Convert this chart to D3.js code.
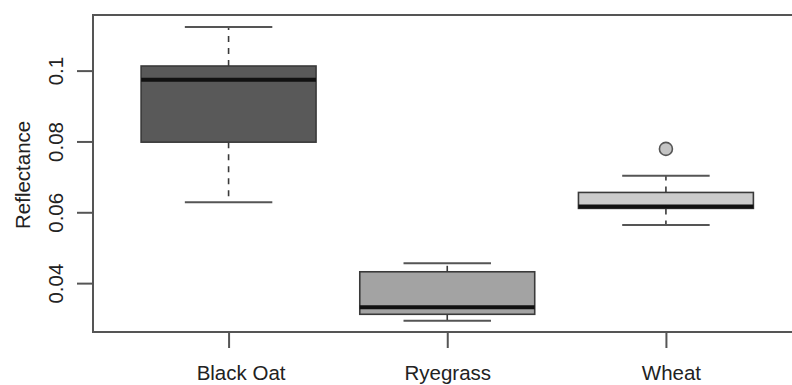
<!DOCTYPE html>
<html>
<head>
<meta charset="utf-8">
<script src="https://cdn.jsdelivr.net/npm/d3@7"></script>
<style>
  html, body { margin: 0; padding: 0; background: #fff; }
  svg { display: block; }
  text { font-family: "Liberation Sans", Arial, sans-serif; fill: #222; }
</style>
</head>
<body>
<svg id="chart" width="792" height="385"></svg>
<script>
// ---- data ----
const categories = ["Black Oat", "Ryegrass", "Wheat"];
const whiskerLow  = [0.0628, 0.0294, 0.0564];
const boxLow      = [0.0798, 0.0312, 0.0611];
const medians     = [0.0974, 0.0332, 0.0616];
const boxHigh     = [0.1013, 0.0432, 0.0656];
const whiskerHigh = [0.1123, 0.0456, 0.0703];
const outliers    = [[], [], [0.0779]];
const fills       = ["#595959", "#a3a3a3", "#cbcbcb"];
const yTicks      = [0.04, 0.06, 0.08, 0.1];
const yTitle      = "Reflectance";

// ---- layout ----
const labelShift = [12, 0, 5];   // small horizontal offsets seen in the reference labels
const svg = d3.select("#chart");
const mLeft = 93, mRight = 801.5, mTop = 15, mBottom = 332;
const x = d3.scaleLinear().domain([0.38, 3.62]).range([mLeft, mRight]);
const y = d3.scaleLinear().domain([0.0262, 0.1157]).range([mBottom, mTop]);
const unit = x(2) - x(1);
const boxHalf = unit * 0.4, capHalf = unit * 0.2;
const lineCol = "#3a3a3a";

// boxes
categories.forEach((c, i) => {
  const cx = x(i + 1);
  const g = svg.append("g");
  // whiskers (dashed)
  g.append("line").attr("x1", cx).attr("x2", cx)
    .attr("y1", y(boxHigh[i])).attr("y2", y(whiskerHigh[i]))
    .attr("stroke", lineCol).attr("stroke-width", 1.6).attr("stroke-dasharray", "6,6");
  g.append("line").attr("x1", cx).attr("x2", cx)
    .attr("y1", y(boxLow[i])).attr("y2", y(whiskerLow[i]))
    .attr("stroke", lineCol).attr("stroke-width", 1.6).attr("stroke-dasharray", "6,6");
  // caps
  [whiskerHigh[i], whiskerLow[i]].forEach(v => {
    g.append("line").attr("x1", cx - capHalf).attr("x2", cx + capHalf)
      .attr("y1", y(v)).attr("y2", y(v))
      .attr("stroke", "#555").attr("stroke-width", 2);
  });
  // box
  g.append("rect").attr("x", cx - boxHalf).attr("width", 2 * boxHalf)
    .attr("y", y(boxHigh[i])).attr("height", y(boxLow[i]) - y(boxHigh[i]))
    .attr("fill", fills[i]).attr("stroke", lineCol).attr("stroke-width", 1.6);
  // median
  g.append("line").attr("x1", cx - boxHalf).attr("x2", cx + boxHalf)
    .attr("y1", y(medians[i])).attr("y2", y(medians[i]))
    .attr("stroke", "#111").attr("stroke-width", 4);
  // outliers
  outliers[i].forEach(v => {
    g.append("circle").attr("cx", cx).attr("cy", y(v)).attr("r", 6.5)
      .attr("fill", "#c4c4c4").attr("stroke", "#555").attr("stroke-width", 1.6);
  });
});

// frame
svg.append("rect").attr("x", mLeft).attr("y", mTop)
  .attr("width", mRight - mLeft).attr("height", mBottom - mTop)
  .attr("fill", "none").attr("stroke", "#555").attr("stroke-width", 2);

// y axis
const yAxis = d3.axisLeft(y).tickValues(yTicks).tickSize(16).tickFormat(d => String(d));
const ya = svg.append("g").attr("transform", `translate(${mLeft},0)`).call(yAxis);
ya.select(".domain").remove();
ya.selectAll(".tick line").attr("stroke", "#555").attr("stroke-width", 2);
ya.selectAll(".tick text")
  .attr("x", 0).attr("dy", 0)
  .attr("transform", "translate(-30,0) rotate(-90)")
  .attr("text-anchor", "middle")
  .style("font-size", "20.5px").style("fill", "#222")
  .style("font-family", "'Liberation Sans', Arial, sans-serif");

// x axis
const xAxis = d3.axisBottom(x).tickValues([1, 2, 3]).tickSize(16)
  .tickFormat((d) => categories[d - 1]);
const xa = svg.append("g").attr("transform", `translate(0,${mBottom})`).call(xAxis);
xa.select(".domain").remove();
xa.selectAll(".tick line").attr("stroke", "#555").attr("stroke-width", 2);
xa.selectAll(".tick text")
  .attr("y", 48).attr("dy", 0)
  .attr("x", (d, i) => labelShift[i])
  .style("font-size", "20.5px").style("fill", "#222")
  .style("font-family", "'Liberation Sans', Arial, sans-serif");

// y title
svg.append("text")
  .attr("transform", `translate(30,${(y(0.08) + y(0.06)) / 2 - 2})` + " rotate(-90)")
  .attr("text-anchor", "middle")
  .style("font-size", "20.5px")
  .text(yTitle);
</script>
</body>
</html>
